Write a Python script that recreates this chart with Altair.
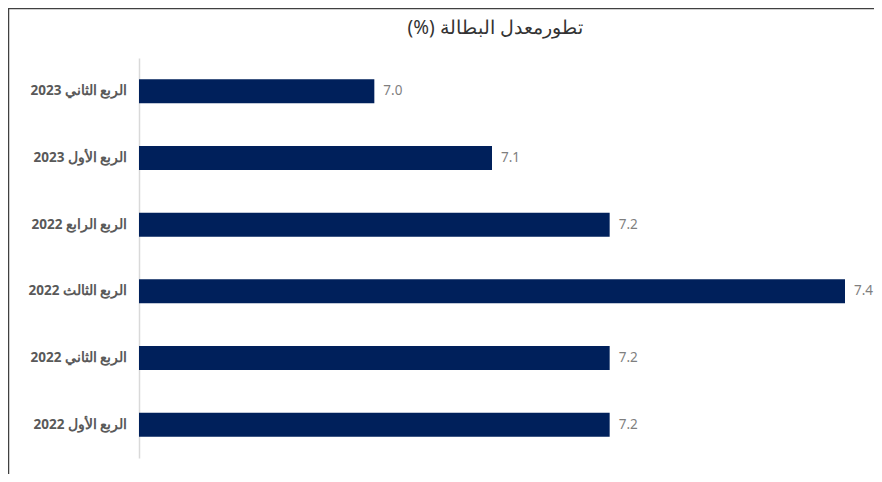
import altair as alt
import pandas as pd

quarters = [
    "الربع الثاني 2023",
    "الربع الأول 2023",
    "الربع الرابع 2022",
    "الربع الثالث 2022",
    "الربع الثاني 2022",
    "الربع الأول 2022",
]
rates = [7.0, 7.1, 7.2, 7.4, 7.2, 7.2]
title_text = "تطورمعدل البطالة (%)\u200f"

df = pd.DataFrame({"quarter": quarters, "rate": rates})
tdf = pd.DataFrame({"t": [title_text]})

FONT = "Noto Sans"

y_enc = alt.Y(
    "quarter:N",
    sort=quarters,
    title=None,
    scale=alt.Scale(paddingInner=0.64, paddingOuter=0.32),
    axis=alt.Axis(
        ticks=False,
        labelPadding=12,
        labelFontSize=13.5,
        labelFontWeight="bold",
        labelColor="#595959",
        labelFont=FONT,
        domainColor="#d9d9d9",
        domainWidth=1.5,
    ),
)
x_enc = alt.X(
    "rate:Q",
    scale=alt.Scale(domain=[6.8, 7.4], zero=False, nice=False, clamp=True),
    axis=None,
)

bars = alt.Chart(df).mark_bar(color="#00205b").encode(x=x_enc, y=y_enc)
labels = alt.Chart(df).mark_text(
    align="left", dx=9, fontSize=13.5, color="#7f7f7f", font=FONT
).encode(x=x_enc, y=y_enc, text=alt.Text("rate:Q", format=".1f"))

title = alt.Chart(tdf).mark_text(
    fontSize=19, color="#333333", font=FONT, align="center", baseline="middle"
).encode(x=alt.value(356), y=alt.value(-30), text="t:N")

frame_top = alt.Chart(tdf).mark_rule(color="#404040", strokeWidth=1.5, clip=False).encode(
    x=alt.value(-131), x2=alt.value(735), y=alt.value(-49.5)
)
frame_left = alt.Chart(tdf).mark_rule(color="#404040", strokeWidth=1.5, clip=False).encode(
    x=alt.value(-130.5), y=alt.value(-50), y2=alt.value(416)
)

chart = (
    alt.layer(bars, labels, title, frame_top, frame_left)
    .properties(
        width=706,
        height=400,
        autosize=alt.AutoSizeParams(type="none"),
        padding={"left": 131, "top": 50, "right": 29, "bottom": 16},
        background="white",
    )
    .configure_view(strokeWidth=0)
)

chart.save("out.html", embed_options={"renderer": "svg", "actions": False})
